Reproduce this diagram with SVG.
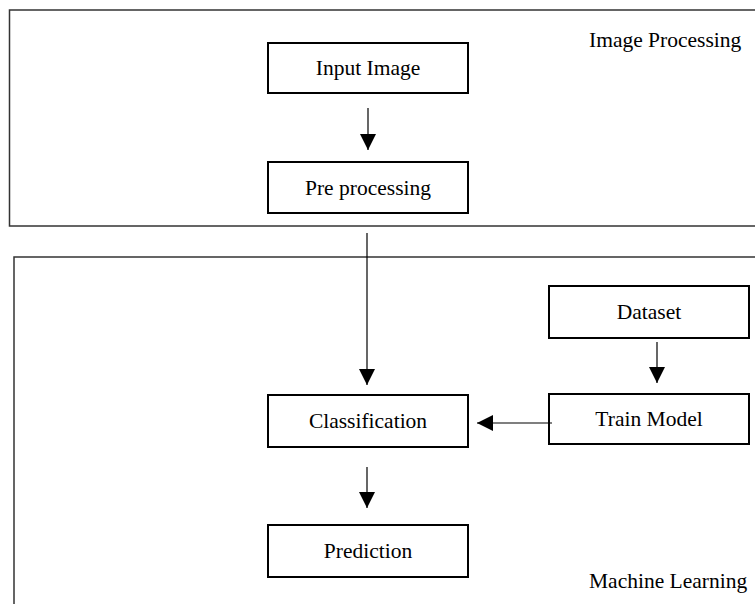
<svg xmlns="http://www.w3.org/2000/svg" width="755" height="604" viewBox="0 0 755 604">
<style>
.frame{fill:none;stroke:#333;stroke-width:1.5}
.box{fill:#fff;stroke:#000;stroke-width:2}
.lbl{font-family:"Liberation Serif","Times New Roman",serif;font-size:21.5px;fill:#000;text-anchor:middle}
.title{font-family:"Liberation Serif","Times New Roman",serif;font-size:21.5px;fill:#000}
.conn{stroke:#000;stroke-width:1.2;fill:none;marker-end:url(#ah)}
</style>
<defs>
<marker id="ah" markerUnits="userSpaceOnUse" markerWidth="16" markerHeight="16" refX="16" refY="8" orient="auto" viewBox="0 0 16 16">
<path d="M0,0 L16,8 L0,16 z" fill="#000"/>
</marker>
</defs>
<rect width="755" height="604" fill="#fff"/>
<g id="image-processing">
<rect class="frame" x="9.5" y="10" width="760" height="216"/>
<text class="title" x="589" y="47">Image Processing</text>
</g>
<g id="machine-learning">
<rect class="frame" x="14" y="257" width="760" height="360"/>
<text class="title" x="589" y="588">Machine Learning</text>
</g>
<g id="input-image">
<rect class="box" x="268" y="43" width="200" height="50"/>
<text class="lbl" x="368" y="75">Input Image</text>
</g>
<g id="pre-processing">
<rect class="box" x="268" y="162" width="200" height="51"/>
<text class="lbl" x="368" y="195">Pre processing</text>
</g>
<g id="dataset">
<rect class="box" x="549" y="286" width="200" height="52"/>
<text class="lbl" x="649" y="319">Dataset</text>
</g>
<g id="train-model">
<rect class="box" x="549" y="394" width="200" height="50"/>
<text class="lbl" x="649" y="426">Train Model</text>
</g>
<g id="classification">
<rect class="box" x="268" y="395" width="200" height="52"/>
<text class="lbl" x="368" y="428">Classification</text>
</g>
<g id="prediction">
<rect class="box" x="268" y="525" width="200" height="52"/>
<text class="lbl" x="368" y="558">Prediction</text>
</g>
<g id="connectors">
<line class="conn" x1="368" y1="108" x2="368" y2="150"/>
<line class="conn" x1="367" y1="233" x2="367" y2="385"/>
<line class="conn" x1="657" y1="342" x2="657" y2="383"/>
<line class="conn" x1="552" y1="423" x2="477" y2="423"/>
<line class="conn" x1="367" y1="467" x2="367" y2="508"/>
</g>
</svg>
